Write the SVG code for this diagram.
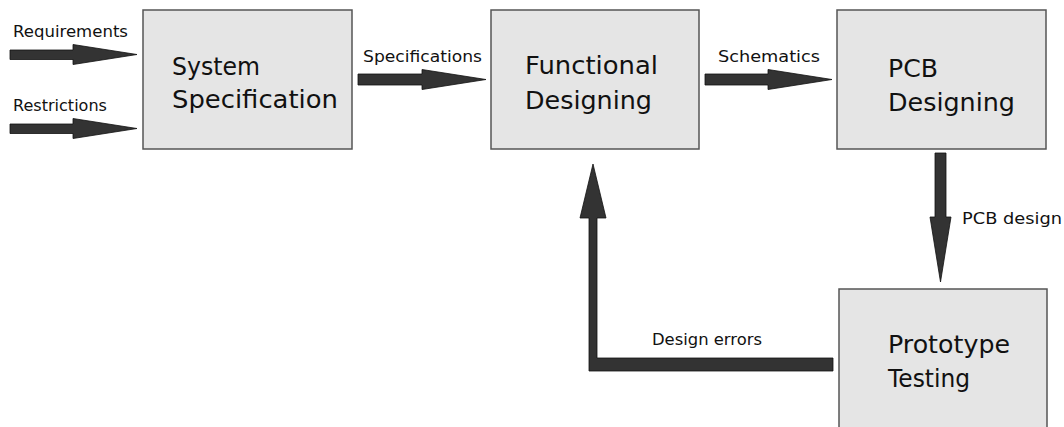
<svg xmlns="http://www.w3.org/2000/svg" width="1064" height="427" viewBox="0 0 1064 427">
  <style>
    .box { fill: #e5e5e5; stroke: #555555; stroke-width: 1.5; }
    .arrow { fill: #333333; stroke: #111111; stroke-width: 0.8; stroke-linejoin: miter; }
    .big { font-family: "DejaVu Sans", "Liberation Sans", sans-serif; font-size: 25.5px; fill: #111111; }
    .small { font-family: "DejaVu Sans", "Liberation Sans", sans-serif; font-size: 15px; fill: #111111; }
  </style>
  <rect width="1064" height="427" fill="#ffffff"/>

  <!-- process steps -->
  <g id="system-specification">
    <rect class="box" x="143" y="10" width="209" height="139"/>
    <text class="big" x="172" y="75" textLength="88" lengthAdjust="spacingAndGlyphs">System</text>
    <text class="big" x="172" y="108" textLength="166" lengthAdjust="spacingAndGlyphs">Specification</text>
  </g>
  <g id="functional-designing">
    <rect class="box" x="491" y="10" width="208" height="139"/>
    <text class="big" x="525" y="74" textLength="133" lengthAdjust="spacingAndGlyphs">Functional</text>
    <text class="big" x="525" y="109" textLength="127" lengthAdjust="spacingAndGlyphs">Designing</text>
  </g>
  <g id="pcb-designing">
    <rect class="box" x="837" y="10" width="209" height="139"/>
    <text class="big" x="888" y="77" textLength="50" lengthAdjust="spacingAndGlyphs">PCB</text>
    <text class="big" x="888" y="111" textLength="127" lengthAdjust="spacingAndGlyphs">Designing</text>
  </g>
  <g id="prototype-testing">
    <rect class="box" x="839" y="289" width="208" height="150"/>
    <text class="big" x="888" y="353" textLength="122" lengthAdjust="spacingAndGlyphs">Prototype</text>
    <text class="big" x="888" y="387" textLength="82" lengthAdjust="spacingAndGlyphs">Testing</text>
  </g>

  <!-- flows between steps -->
  <g id="connectors">
    <polygon class="arrow" points="10,50 73,50 73,44.5 137,54.5 73,64.5 73,59.5 10,59.5"/>
    <text class="small" x="13" y="37" textLength="115" lengthAdjust="spacingAndGlyphs">Requirements</text>

    <polygon class="arrow" points="10,124 73,124 73,118.5 137,128.5 73,138.5 73,133.5 10,133.5"/>
    <text class="small" x="13" y="111" textLength="94" lengthAdjust="spacingAndGlyphs">Restrictions</text>

    <polygon class="arrow" points="358,74 422,74 422,69.5 486,79.5 422,89.5 422,85 358,85"/>
    <text class="small" x="363" y="62" textLength="119" lengthAdjust="spacingAndGlyphs">Specifications</text>

    <polygon class="arrow" points="705,74 768,74 768,69.5 832,79.5 768,89.5 768,85 705,85"/>
    <text class="small" x="718" y="62" textLength="102" lengthAdjust="spacingAndGlyphs">Schematics</text>

    <polygon class="arrow" points="935,153 946,153 946,217 951,217 940.5,282 930,217 935,217"/>
    <text class="small" x="962" y="224" textLength="100" lengthAdjust="spacingAndGlyphs">PCB design</text>

    <polygon class="arrow" points="833,358 597,358 597,218 606,218 593,164 580,218 589,218 589,371 833,371"/>
    <text class="small" x="652" y="345" textLength="110" lengthAdjust="spacingAndGlyphs">Design errors</text>
  </g>
</svg>
